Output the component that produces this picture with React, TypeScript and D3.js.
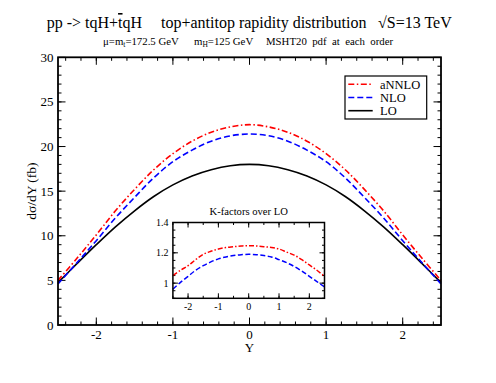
import * as d3 from "d3";
import React from "react";

// rapidity grid and cross sections (fb)
const rapidity = [-2.5, -2.25, -2, -1.75, -1.5, -1.25, -1, -0.75, -0.5, -0.25, 0, 0.25, 0.5, 0.75, 1, 1.25, 1.5, 1.75, 2, 2.25, 2.5];
const lo = [4.75, 6.9, 9.0, 11.0, 12.8, 14.4, 15.7, 16.7, 17.4, 17.85, 18.0, 17.85, 17.4, 16.7, 15.7, 14.4, 12.8, 11.0, 9.0, 6.9, 4.75];
const nlo = [4.6, 7.0, 9.45, 12.0, 14.3, 16.5, 18.3, 19.6, 20.6, 21.2, 21.4, 21.2, 20.6, 19.6, 18.3, 16.5, 14.3, 12.0, 9.45, 7.0, 4.6];
const annlo = [5.0, 7.5, 10.1, 12.8, 15.2, 17.4, 19.2, 20.6, 21.6, 22.2, 22.45, 22.2, 21.6, 20.6, 19.2, 17.4, 15.2, 12.8, 10.1, 7.5, 5.0];

// K-factors over LO
const kAnnlo = [1.05, 1.085, 1.115, 1.155, 1.19, 1.21, 1.225, 1.235, 1.24, 1.245, 1.247, 1.245, 1.24, 1.235, 1.225, 1.205, 1.185, 1.155, 1.12, 1.085, 1.045];
const kNlo = [0.96, 1.005, 1.045, 1.085, 1.115, 1.14, 1.16, 1.173, 1.182, 1.188, 1.19, 1.188, 1.182, 1.173, 1.155, 1.135, 1.11, 1.08, 1.045, 1.01, 0.975];

const mainXTicks = [-2, -1, 0, 1, 2];
const mainYTicks = [0, 5, 10, 15, 20, 25, 30];
const insetXTicks = [-2, -1, 0, 1, 2];
const insetYTicks = [1, 1.2, 1.4];

const legendItems = [
  { name: "aNNLO", color: "#ff0000", dash: "6,2.5,1.5,2.5" },
  { name: "NLO", color: "#0000ff", dash: "6,3" },
  { name: "LO", color: "#000000", dash: "none" },
];

const font = "'Liberation Serif', 'Times New Roman', serif";

const App = () => {
  const x = d3.scaleLinear().domain([-2.5, 2.5]).range([58, 441]);
  const y = d3.scaleLinear().domain([0, 30]).range([325, 57.3]);
  const ix = d3.scaleLinear().domain([-2.5, 2.5]).range([172.9, 324.5]);
  const iy = d3.scaleLinear().domain([0.9, 1.4]).range([298.3, 222.5]);

  const mainLine = (vals: number[]) =>
    d3.line<number>()
      .x((_, i) => x(rapidity[i]))
      .y((d) => y(d))
      .curve(d3.curveCatmullRom)(vals) ?? "";
  const insetLine = (vals: number[]) =>
    d3.line<number>()
      .x((_, i) => ix(rapidity[i]))
      .y((d) => iy(d))
      .curve(d3.curveCatmullRom)(vals) ?? "";

  const [x0, x1] = x.range();
  const [y0, y1] = y.range();
  const [ix0, ix1] = ix.range();
  const [iy0, iy1] = iy.range();

  const mainXMinor = d3.range(-2.4, 2.41, 0.2);
  const mainYMinor = d3.range(1, 30, 1);
  const insetXMinor = d3.range(-2.5, 2.51, 0.5);
  const insetYMinor = d3.range(0.9, 1.401, 0.05);

  return (
    <svg width={496} height={383} style={{ position: "absolute", left: 0, top: 0, background: "#fff" }} fontFamily={font}>
      {/* titles */}
      <text x={46.7} y={28} fontSize={16}>
        pp -&gt; tqH+<tspan textDecoration="overline">t</tspan>qH
      </text>
      <text x={161} y={28} fontSize={16}>top+antitop rapidity distribution</text>
      <text x={378} y={28} fontSize={16}>√S=13 TeV</text>
      <text x={103} y={45} fontSize={10.8}>
        μ=m<tspan fontSize={7.5} dy={2}>t</tspan><tspan dy={-2}>=172.5 GeV</tspan>
      </text>
      <text x={194} y={45} fontSize={10.8}>
        m<tspan fontSize={7.5} dy={2}>H</tspan><tspan dy={-2}>=125 GeV</tspan>
      </text>
      <text x={266} y={45} fontSize={10.8} style={{ whiteSpace: "pre" }}>MSHT20  pdf  at  each  order</text>

      {/* main ticks */}
      {mainXMinor.map((t) => (
        <g key={"xm" + t} stroke="#000" strokeWidth={1}>
          <line x1={x(t)} x2={x(t)} y1={y0} y2={y0 - 3.5} />
          <line x1={x(t)} x2={x(t)} y1={y1} y2={y1 + 3.5} />
        </g>
      ))}
      {mainXTicks.map((t) => (
        <g key={"xM" + t} stroke="#000" strokeWidth={1}>
          <line x1={x(t)} x2={x(t)} y1={y0} y2={y0 - 7.5} />
          <line x1={x(t)} x2={x(t)} y1={y1} y2={y1 + 7.5} />
        </g>
      ))}
      {mainYMinor.map((t) => (
        <g key={"ym" + t} stroke="#000" strokeWidth={1}>
          <line x1={x0} x2={x0 + 3.5} y1={y(t)} y2={y(t)} />
          <line x1={x1} x2={x1 - 3.5} y1={y(t)} y2={y(t)} />
        </g>
      ))}
      {mainYTicks.map((t) => (
        <g key={"yM" + t} stroke="#000" strokeWidth={1}>
          <line x1={x0} x2={x0 + 7.5} y1={y(t)} y2={y(t)} />
          <line x1={x1} x2={x1 - 7.5} y1={y(t)} y2={y(t)} />
        </g>
      ))}
      {mainXTicks.map((t) => (
        <text key={"xl" + t} x={x(t)} y={338.5} fontSize={13} textAnchor="middle">{t}</text>
      ))}
      {mainYTicks.map((t) => (
        <text key={"yl" + t} x={53.5} y={y(t) + 4.5} fontSize={13} textAnchor="end">{t}</text>
      ))}
      <text x={x(0)} y={352} fontSize={13} textAnchor="middle">Y</text>
      <text transform={`translate(36,${(y0 + y1) / 2}) rotate(-90)`} fontSize={13.5} textAnchor="middle">dσ/dY (fb)</text>

      {/* main curves */}
      <path d={mainLine(lo)} fill="none" stroke="#000" strokeWidth={1.6} />
      <path d={mainLine(nlo)} fill="none" stroke="#0000ff" strokeWidth={1.6} strokeDasharray="6,3" />
      <path d={mainLine(annlo)} fill="none" stroke="#ff0000" strokeWidth={1.6} strokeDasharray="6,2.5,1.5,2.5" />

      <rect x={x0} y={y1} width={x1 - x0} height={y0 - y1} fill="none" stroke="#000" strokeWidth={1.8} />

      {/* legend */}
      <rect x={345} y={76} width={81.7} height={43} fill="#fff" stroke="#000" strokeWidth={1.2} />
      {legendItems.map((d, i) => (
        <g key={d.name}>
          <line x1={348.3} x2={372.7} y1={84.3 + i * 13.2} y2={84.3 + i * 13.2} stroke={d.color} strokeWidth={1.6} strokeDasharray={d.dash} />
          <text x={380} y={84.3 + i * 13.2 + 4.3} fontSize={12.5}>{d.name}</text>
        </g>
      ))}

      {/* inset */}
      <text x={ix(0)} y={215} fontSize={10.6} textAnchor="middle">K-factors over LO</text>
      {insetXMinor.map((t) => (
        <g key={"ixm" + t} stroke="#000" strokeWidth={1}>
          <line x1={ix(t)} x2={ix(t)} y1={iy0} y2={iy0 - 2.5} />
          <line x1={ix(t)} x2={ix(t)} y1={iy1} y2={iy1 + 2.5} />
        </g>
      ))}
      {insetXTicks.map((t) => (
        <g key={"ixM" + t} stroke="#000" strokeWidth={1}>
          <line x1={ix(t)} x2={ix(t)} y1={iy0} y2={iy0 - 5} />
          <line x1={ix(t)} x2={ix(t)} y1={iy1} y2={iy1 + 5} />
        </g>
      ))}
      {insetYMinor.map((t) => (
        <g key={"iym" + t} stroke="#000" strokeWidth={1}>
          <line x1={ix0} x2={ix0 + 2.5} y1={iy(t)} y2={iy(t)} />
          <line x1={ix1} x2={ix1 - 2.5} y1={iy(t)} y2={iy(t)} />
        </g>
      ))}
      {insetYTicks.map((t) => (
        <g key={"iyM" + t} stroke="#000" strokeWidth={1}>
          <line x1={ix0} x2={ix0 + 5} y1={iy(t)} y2={iy(t)} />
          <line x1={ix1} x2={ix1 - 5} y1={iy(t)} y2={iy(t)} />
        </g>
      ))}
      {insetXTicks.map((t) => (
        <text key={"ixl" + t} x={ix(t)} y={309.5} fontSize={10} textAnchor="middle">{t}</text>
      ))}
      {insetYTicks.map((t) => (
        <text key={"iyl" + t} x={168.5} y={iy(t) + 3.5} fontSize={10} textAnchor="end">{t}</text>
      ))}
      <path d={insetLine(kNlo)} fill="none" stroke="#0000ff" strokeWidth={1.5} strokeDasharray="5,2.5" />
      <path d={insetLine(kAnnlo)} fill="none" stroke="#ff0000" strokeWidth={1.5} strokeDasharray="5,2,1.5,2" />
      <rect x={ix0} y={iy1} width={ix1 - ix0} height={iy0 - iy1} fill="none" stroke="#000" strokeWidth={1.5} />
    </svg>
  );
};

export default App;
